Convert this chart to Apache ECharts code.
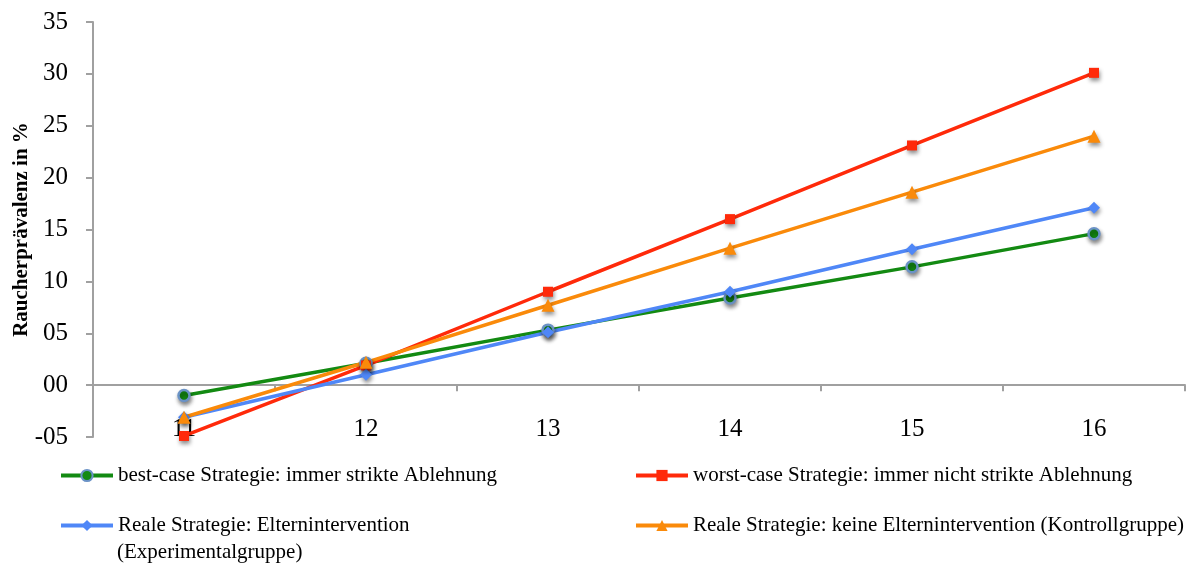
<!DOCTYPE html>
<html><head><meta charset="utf-8">
<script src="https://cdn.jsdelivr.net/npm/echarts@6/dist/echarts.min.js"></script>
<style>html,body{margin:0;padding:0;background:#fff}#c{width:1200px;height:565px}</style>
</head><body><div id="c"></div>
<script>
const categories = ['11','12','13','14','15','16'];
const bestCase = [-1.0, 2.1, 5.3, 8.4, 11.4, 14.6];
const worstCase = [-4.9, 1.9, 9.0, 16.0, 23.1, 30.1];
const realExp = [-3.1, 1.0, 5.1, 9.0, 13.1, 17.1];
const realCtrl = [-3.1, 2.2, 7.7, 13.2, 18.6, 24.0];
const seriesNames = [
  'best-case Strategie: immer strikte Ablehnung',
  'worst-case Strategie: immer nicht strikte Ablehnung',
  'Reale Strategie: Elternintervention (Experimentalgruppe)',
  'Reale Strategie: keine Elternintervention (Kontrollgruppe)'
];
const yTitle = 'Raucherprävalenz in %';

const font = '"Liberation Serif","Times New Roman",serif';
const shadow = {shadowBlur: 4, shadowColor: 'rgba(0,0,0,0.45)', shadowOffsetX: 1, shadowOffsetY: 3};
function mk(name, data, color, symbol, size, extra) {
  return {
    name, type: 'line', data, symbol, symbolSize: size,
    lineStyle: {color, width: 3.5},
    itemStyle: Object.assign({color}, shadow, extra || {}),
    emphasis: {disabled: true},
    animation: false, z: 3
  };
}
const legendBase = {
  itemWidth: 52, itemHeight: 14, itemGap: 0,
  textStyle: {fontFamily: font, fontSize: 21, color: '#000'},
  lineStyle: {width: 4},
  selectedMode: false
};
const chart = echarts.init(document.getElementById('c'));
chart.setOption({
  backgroundColor: '#fff',
  animation: false,
  grid: {left: 93, right: 15, top: 22, bottom: 128, outerBoundsMode: 'none', containLabel: false},
  legend: [
    Object.assign({}, legendBase, {data: [seriesNames[0]], left: 54, top: 460}),
    Object.assign({}, legendBase, {data: [seriesNames[1]], left: 629, top: 460}),
    Object.assign({}, legendBase, {data: [seriesNames[2]], left: 54, top: 510,
      formatter: n => n.split(' (')[0]}),
    Object.assign({}, legendBase, {data: [seriesNames[3]], left: 629, top: 510})
  ],
  graphic: [{
    type: 'text', left: 117, top: 542, silent: true,
    style: {text: '(' + seriesNames[2].split(' (')[1], font: '21px ' + font, fill: '#000'}
  }],
  xAxis: {
    type: 'category', data: categories, boundaryGap: true,
    axisLine: {onZero: true, lineStyle: {color: '#a0a0a0', width: 2}},
    axisTick: {show: true, length: 6, lineStyle: {color: '#a0a0a0', width: 2}},
    axisLabel: {fontFamily: font, fontSize: 25, color: '#000', margin: -20}
  },
  yAxis: {
    type: 'value', min: -5, max: 35, interval: 5,
    name: yTitle, nameLocation: 'middle', nameGap: 61, nameRotate: 90, nameMoveOverlap: false,
    nameTextStyle: {fontFamily: font, fontSize: 21, fontWeight: 'bold', color: '#000'},
    axisLine: {show: true, lineStyle: {color: '#a0a0a0', width: 2}},
    axisTick: {show: true, length: 7, lineStyle: {color: '#a0a0a0', width: 2}},
    splitLine: {show: false},
    axisLabel: {fontFamily: font, fontSize: 25, color: '#000', margin: 25,
      formatter: v => (v < 0 ? '-' : '') + String(Math.abs(v)).padStart(2, '0')}
  },
  series: [
    mk(seriesNames[0], bestCase, '#138A12', 'circle', 11, {borderColor: '#6A92C6', borderWidth: 2.5}),
    mk(seriesNames[1], worstCase, '#FF2A0A', 'rect', 10),
    mk(seriesNames[2], realExp, '#4F87F7', 'diamond', 12),
    mk(seriesNames[3], realCtrl, '#FA8A0A', 'triangle', 13)
  ]
});
</script></body></html>
